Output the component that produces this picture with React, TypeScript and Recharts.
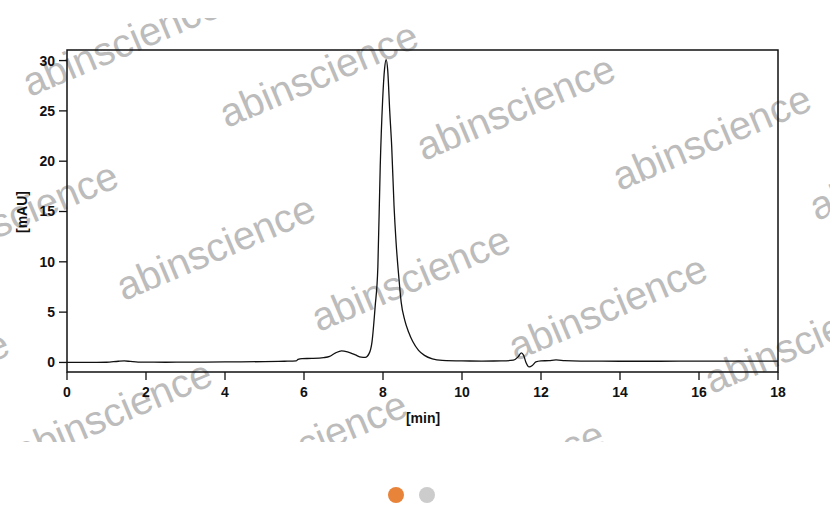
import { LineChart, Line, XAxis, YAxis, ReferenceArea, Label } from "recharts";

// retention time [min]
const times = [
  0, 0.5, 1.0, 1.3, 1.45, 1.6, 1.8, 2.5, 3.0, 4.0, 5.0, 5.5, 5.8, 5.85, 5.95, 6.2, 6.5, 6.65, 6.8, 6.95,
  7.1, 7.3, 7.45, 7.55, 7.65, 7.72, 7.8, 7.87, 7.93, 7.99, 8.04, 8.08, 8.12, 8.17, 8.22, 8.28, 8.33, 8.4,
  8.46, 8.55, 8.65, 8.75, 8.9, 9.05, 9.25, 9.5, 10, 10.5, 11, 11.3, 11.42, 11.5, 11.56, 11.62, 11.7, 11.78,
  11.87, 12.0, 12.2, 12.38, 12.6, 13, 14, 15, 16, 17, 18,
];

// absorbance [mAU]
const signal = [
  0.0, 0.0, 0.02, 0.12, 0.15, 0.1, 0.03, 0.02, 0.03, 0.05, 0.08, 0.12, 0.15, 0.3, 0.38, 0.4, 0.48, 0.6, 0.95, 1.15,
  1.05, 0.75, 0.52, 0.5, 0.9, 2.0, 5.5, 9.5, 19.5, 26.0, 29.2, 30.1, 29.0, 25.0, 21.5, 15.5, 12.0, 8.5,
  6.0, 4.2, 3.0, 2.1, 1.2, 0.7, 0.35, 0.2, 0.15, 0.14, 0.15, 0.22, 0.55, 0.95, 0.7, 0.0, -0.45, -0.3,
  0.05, 0.15, 0.18, 0.25, 0.18, 0.13, 0.12, 0.12, 0.13, 0.13, 0.14,
];

const timeTicks = [0, 2, 4, 6, 8, 10, 12, 14, 16, 18];
const mauTicks = [0, 5, 10, 15, 20, 25, 30];
const timeDomain = [0, 18];
const mauDomain = [-0.95, 31.05];

const data = times.map((t, i) => ({ t, v: signal[i] }));

const FONT = "'Liberation Sans', Arial, sans-serif";

// watermark text baselines (centre points)
const marks = [
  [-72, 24], [127, 56], [324, 87], [521, 120], [717, 150], [914, 180],
  [24, 227], [221, 260], [416, 291], [613, 320], [809, 353],
  [-85, 395], [118, 425], [313, 456], [510, 486], [707, 516],
];

export default function App() {
  const tickStyle = { fill: "#111", fontSize: 14, fontWeight: 700, fontFamily: FONT };
  return (
    <div style={{ position: "absolute", left: 0, top: 0, width: 830, height: 524, background: "#fff" }}>
      <svg width={830} height={524} style={{ position: "absolute", left: 0, top: 0 }}>
        <defs>
          <clipPath id="wm">
            <rect x={0} y={18} width={830} height={424} />
          </clipPath>
        </defs>
        <g clipPath="url(#wm)">
          {marks.map(([x, y], i) => (
            <text
              key={i}
              x={x}
              y={y}
              textAnchor="middle"
              fontSize={40}
              fontFamily={FONT}
              fill="#bcbcbc"
              transform={`rotate(-23 ${x} ${y})`}
            >
              abinscience
            </text>
          ))}
        </g>
        <circle cx={396} cy={495} r={8} fill="#e8833a" />
        <circle cx={427} cy={495} r={8} fill="#cccccc" />
      </svg>
      <div style={{ position: "absolute", left: 0, top: 0 }}>
        <LineChart width={830} height={442} data={data} margin={{ top: 50, right: 52, left: 0, bottom: 0 }}>
          <XAxis
            type="number"
            dataKey="t"
            domain={timeDomain}
            ticks={timeTicks}
            height={70}
            tickSize={8}
            tickMargin={7}
            axisLine={false}
            tickLine={{ stroke: "#111", strokeWidth: 1.3 }}
            tick={tickStyle}
          >
            <Label
              content={() => (
                <text x={423} y={423} textAnchor="middle" fontSize={14} fontWeight={700} fontFamily={FONT} fill="#111">
                  [min]
                </text>
              )}
            />
          </XAxis>
          <YAxis
            type="number"
            domain={mauDomain}
            ticks={mauTicks}
            width={67}
            tickSize={8}
            tickMargin={4}
            axisLine={false}
            allowDataOverflow
            tickLine={{ stroke: "#111", strokeWidth: 1.3 }}
            tick={tickStyle}
          >
            <Label
              content={() => (
                <text
                  x={27}
                  y={212}
                  textAnchor="middle"
                  fontSize={14}
                  fontWeight={700}
                  fontFamily={FONT}
                  fill="#111"
                  transform="rotate(-90 27 212)"
                >
                  [mAU]
                </text>
              )}
            />
          </YAxis>
          <ReferenceArea
            x1={timeDomain[0]}
            x2={timeDomain[1]}
            y1={mauDomain[0]}
            y2={mauDomain[1]}
            fill="none"
            stroke="#111"
            strokeWidth={1.5}
            ifOverflow="visible"
          />
          <Line
            type="monotone"
            dataKey="v"
            stroke="#111"
            strokeWidth={1.3}
            dot={false}
            isAnimationActive={false}
          />
        </LineChart>
      </div>
    </div>
  );
}
